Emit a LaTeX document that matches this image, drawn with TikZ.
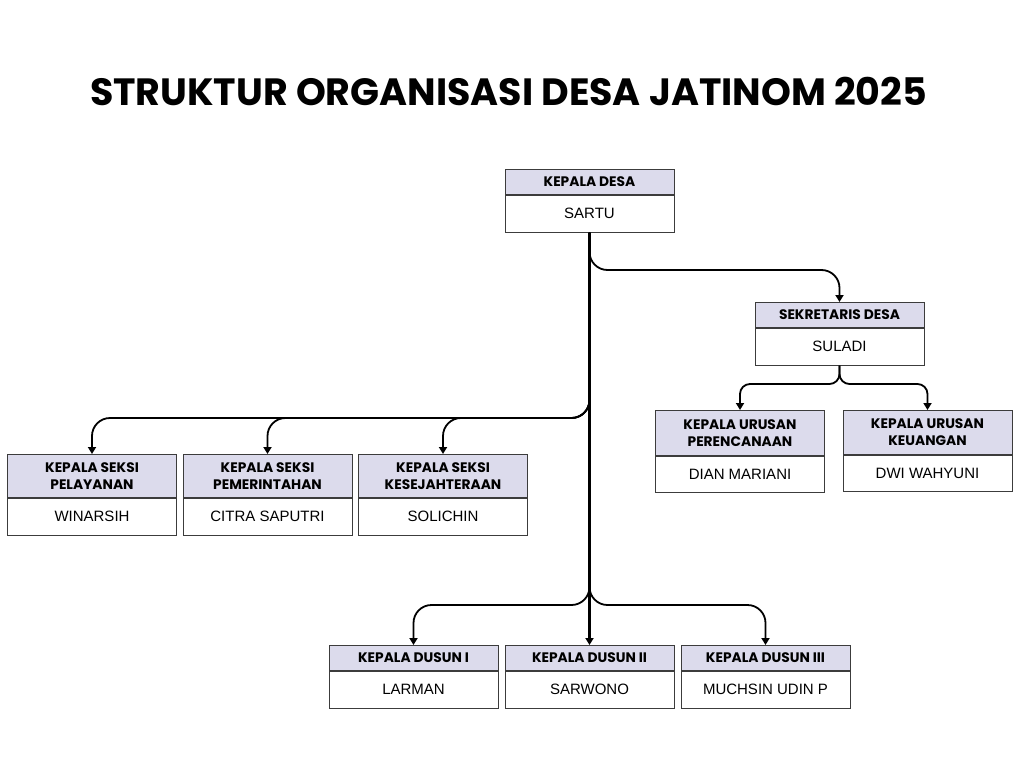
\documentclass[tikz,border=0pt]{standalone}
\usepackage{fontspec}
\setmainfont{Liberation Sans}
\newfontfamily\popp{Poppins}
\usetikzlibrary{arrows.meta,positioning}
\definecolor{hdrfill}{RGB}{220,219,236}
\definecolor{edgec}{RGB}{60,60,60}
\begin{document}
\begin{tikzpicture}[x=1pt,y=-1pt,
  hdr/.style={draw=edgec, line width=0.8pt, fill=hdrfill, minimum width=169pt, inner sep=0pt, anchor=north, align=center, font=\popp\bfseries\fontsize{13.8}{17}\selectfont},
  body/.style={draw=edgec, line width=0.8pt, fill=white, minimum width=169pt, minimum height=37pt, inner sep=0pt, anchor=north, font=\fontsize{15}{18}\selectfont},
  conn/.style={line width=1.8pt, rounded corners=18pt},
  arr/.style={-{Triangle[length=7pt,width=8pt]}},
  titlestyle/.style={font=\popp\bfseries\fontsize{38}{44}\selectfont}
]
\fill[white] (0,0) rectangle (1024,768);
\useasboundingbox (0,0) rectangle (1024,768);

\node[titlestyle] (title) at (508.5,91) {STRUKTUR ORGANISASI DESA JATINOM 2025};

% Kepala Desa
\node[hdr, minimum height=25pt] (kdH) at (589.5,169) {KEPALA DESA};
\node[body] (kdB) at (kdH.south) {SARTU};
% Sekretaris
\node[hdr, minimum height=25pt] (sdH) at (839.5,302) {SEKRETARIS DESA};
\node[body] (sdB) at (sdH.south) {SULADI};
% Kaur
\node[hdr, minimum height=45pt] (kpH) at (740,410) {KEPALA URUSAN\\PERENCANAAN};
\node[body, minimum height=36pt] (kpB) at (kpH.south) {DIAN MARIANI};
\node[hdr, minimum height=44pt] (kkH) at (927.5,410) {KEPALA URUSAN\\KEUANGAN};
\node[body, minimum height=36pt] (kkB) at (kkH.south) {DWI WAHYUNI};
% Kasi
\node[hdr, minimum height=43pt] (k1H) at (92,454) {KEPALA SEKSI\\PELAYANAN};
\node[body] (k1B) at (k1H.south) {WINARSIH};
\node[hdr, minimum height=43pt] (k2H) at (267.5,454) {KEPALA SEKSI\\PEMERINTAHAN};
\node[body] (k2B) at (k2H.south) {CITRA SAPUTRI};
\node[hdr, minimum height=43pt] (k3H) at (443,454) {KEPALA SEKSI\\KESEJAHTERAAN};
\node[body] (k3B) at (k3H.south) {SOLICHIN};
% Dusun
\node[hdr, minimum height=25pt] (d1H) at (413.5,645) {KEPALA DUSUN I};
\node[body] (d1B) at (d1H.south) {LARMAN};
\node[hdr, minimum height=25pt] (d2H) at (589.5,645) {KEPALA DUSUN II};
\node[body] (d2B) at (d2H.south) {SARWONO};
\node[hdr, minimum height=25pt] (d3H) at (765.5,645) {KEPALA DUSUN III};
\node[body] (d3B) at (d3H.south) {MUCHSIN UDIN P};

% junctions
\coordinate (jS) at (589.5,270);
\coordinate (jK) at (589.5,418);
\coordinate (jD) at (589.5,605);
\coordinate (jU) at (839.5,384);

% connectors
\draw[conn, arr] (kdB.south) -- (jS) -| (sdH.north);
\draw[conn, arr] (kdB.south) -- (jK) -| (k1H.north);
\draw[conn, arr] (kdB.south) -- (jK) -| (k2H.north);
\draw[conn, arr] (kdB.south) -- (jK) -| (k3H.north);
\draw[conn, arr] (kdB.south) -- (jD) -| (d1H.north);
\draw[conn, arr] (kdB.south) -- (jD) -| (d3H.north);
\draw[line width=2.8pt, arr] (kdB.south) -- (d2H.north);
\draw[conn, rounded corners=10pt, arr] (sdB.south) -- (jU) -| (kpH.north);
\draw[conn, rounded corners=10pt, arr] (sdB.south) -- (jU) -| (kkH.north);
\end{tikzpicture}
\end{document}
